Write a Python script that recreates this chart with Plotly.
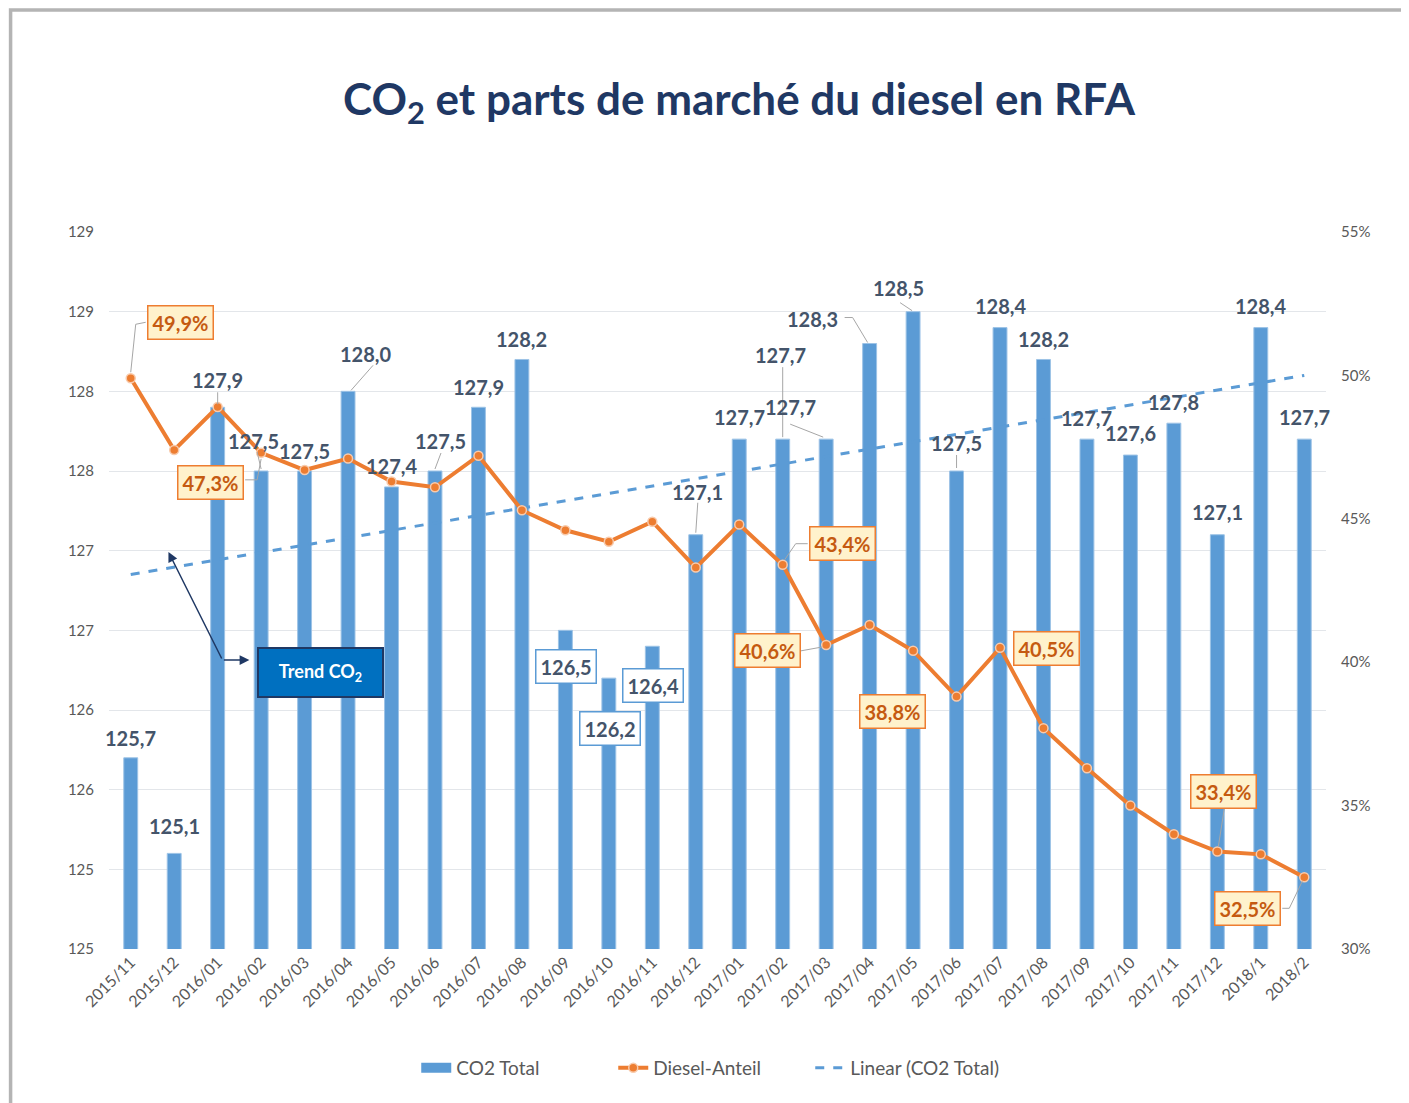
import plotly.graph_objects as go

# ---------------- data ----------------
months = ["2015/11", "2015/12", "2016/01", "2016/02", "2016/03", "2016/04", "2016/05",
          "2016/06", "2016/07", "2016/08", "2016/09", "2016/10", "2016/11", "2016/12",
          "2017/01", "2017/02", "2017/03", "2017/04", "2017/05", "2017/06", "2017/07",
          "2017/08", "2017/09", "2017/10", "2017/11", "2017/12", "2018/1", "2018/2"]
co2_total = [125.7, 125.1, 127.9, 127.5, 127.5, 128.0, 127.4, 127.5, 127.9, 128.2,
             126.5, 126.2, 126.4, 127.1, 127.7, 127.7, 127.7, 128.3, 128.5, 127.5,
             128.4, 128.2, 127.7, 127.6, 127.8, 127.1, 128.4, 127.7]
diesel_share = [49.9, 47.4, 48.9, 47.3, 46.7, 47.1, 46.3, 46.1, 47.2, 45.3,
                44.6, 44.2, 44.9, 43.3, 44.8, 43.4, 40.6, 41.3, 40.4, 38.8,
                40.5, 37.7, 36.3, 35.0, 34.0, 33.4, 33.3, 32.5]
trend_months = ["2015/11", "2018/2"]
trend_values = [126.85, 128.10]
left_tickvals = [124.5, 125.0, 125.5, 126.0, 126.5, 127.0, 127.5, 128.0, 128.5, 129.0]
left_ticktext = ["125", "125", "126", "126", "127", "127", "128", "128", "129", "129"]
right_tickvals = [30, 35, 40, 45, 50, 55]
right_ticktext = ["30%", "35%", "40%", "45%", "50%", "55%"]
diesel_labelled = ["2015/11", "2016/02", "2017/02", "2017/03", "2017/06", "2017/07", "2017/12", "2018/2"]
co2_boxed = ["2016/09", "2016/10", "2016/11"]

# ---------------- label offsets (pixels, style only) ----------------
co2_offsets = [(0, 20), (0, 27), (0, 27), (-8, 30), (0, 20), (17, 37), (0, 21),
               (6, 30), (0, 20), (0, 20), (1, -36), (1, -50), (1, -39), (2, 43),
               (0, 22), (-2, 84), (-36, 32), (-57, 25), (-15, 24), (0, 28), (0, 22),
               (0, 20), (0, 21), (0, 22), (0, 21), (0, 23), (0, 22), (0, 22)]
diesel_offsets = {"2015/11": (50, 56), "2016/02": (-51, -30), "2017/02": (60, 21),
                  "2017/03": (-59, -6), "2017/06": (-64, -15), "2017/07": (46, -1),
                  "2017/12": (6, 60), "2018/2": (-57, -31)}
# leader lines: (category, axis, pixel path relative to the data point, up = positive)
leaders = [
    ("2015/11", "y2", [(0, 6), (5, 54), (15, 56)]),
    ("2016/02", "y2", [(-16, -27), (-4, -27), (0, -6)]),
    ("2017/02", "y2", [(2, 5), (13, 21), (25, 21)]),
    ("2017/03", "y2", [(-26, -6), (-4, -2)]),
    ("2017/12", "y2", [(1, 5), (7, 43)]),
    ("2018/2", "y2", [(-22, -31), (-15, -31), (-2, -4)]),
    ("2016/01", "y", [(0, 15), (0, 3)]),
    ("2016/02", "y", [(-4, 19), (0, 2)]),
    ("2016/04", "y", [(25, 26), (3, 1)]),
    ("2016/06", "y", [(6, 18), (0, 2)]),
    ("2016/12", "y", [(2, 32), (0, 2)]),
    ("2017/02", "y", [(0, 72), (0, 2)]),
    ("2017/03", "y", [(-36, 15), (-3, 2)]),
    ("2017/04", "y", [(-25, 26), (-17, 26), (-2, 1)]),
    ("2017/05", "y", [(-13, 9), (-1, 1)]),
    ("2017/06", "y", [(0, 16), (0, 3)]),
]

FONT = "Lato"
BLUE = "#5B9BD5"
ORANGE = "#ED7D31"
LABEL = "#44546A"

fig = go.Figure()
# legend-only entry giving the wide bar swatch of the original legend
fig.add_trace(go.Scatter(x=[None], y=[None], name="CO2 Total", mode="lines",
                         line=dict(color=BLUE, width=10), legendrank=1))
fig.add_trace(go.Bar(x=months, y=co2_total, name="CO2 Total", width=0.32, showlegend=False,
                     marker=dict(color=BLUE, line=dict(color="#9DC3E6", width=1)),
                     yaxis="y"))
fig.add_trace(go.Scatter(x=months, y=diesel_share, name="Diesel-Anteil", mode="lines+markers",
                         line=dict(color=ORANGE, width=4), legendrank=2,
                         marker=dict(size=9, color=ORANGE, line=dict(color="#F8CBAD", width=1.5)),
                         yaxis="y2"))
fig.add_trace(go.Scatter(x=trend_months, y=trend_values, name="Linear (CO2 Total)", mode="lines",
                         line=dict(color=BLUE, width=3, dash="dash"), yaxis="y", legendrank=3))

def fmt(v):
    return f"{v:.1f}".replace(".", ",")

annotations = []
for m, v, (dx, dy) in zip(months, co2_total, co2_offsets):
    boxed = m in co2_boxed
    annotations.append(dict(x=m, y=v, xref="x", yref="y", text=fmt(v), showarrow=False,
                            xshift=dx, yshift=dy, xanchor="center", yanchor="middle",
                            font=dict(family=FONT, size=20, color=LABEL, weight="bold"),
                            bgcolor="white" if boxed else None,
                            bordercolor=BLUE if boxed else None,
                            borderwidth=1.5 if boxed else 0, borderpad=4))
for m, v in zip(months, diesel_share):
    if m in diesel_labelled:
        dx, dy = diesel_offsets[m]
        annotations.append(dict(x=m, y=v, xref="x", yref="y2", text=fmt(v) + "%", showarrow=False,
                                xshift=dx, yshift=dy, xanchor="center", yanchor="middle",
                                font=dict(family=FONT, size=20, color="#C55A11", weight="bold"),
                                bgcolor="#FFF2CC", bordercolor=ORANGE, borderwidth=1.5, borderpad=4))

# screen pixel -> paper coordinates (plot area spans 108.5..1326.5 x, 232..949 y on screen)
def px(xp):
    return (xp - 108.5) / 1218.0

def py(yp):
    return (949.0 - yp) / 717.0

annotations.append(dict(x=px(320), y=py(672), xref="paper", yref="paper", xanchor="center", yanchor="middle",
                        text="Trend CO<sub>2</sub>", showarrow=False, width=99, height=23,
                        font=dict(family=FONT, size=18, color="white", weight="bold"),
                        bgcolor="#0070C0", bordercolor="#1F3864", borderwidth=2, borderpad=12))
annotations.append(dict(x=px(168), y=py(552), xref="paper", yref="paper", text="",
                        showarrow=True, ax=54, ay=108, arrowhead=2, arrowsize=1.3,
                        arrowwidth=1.5, arrowcolor="#1F3864", standoff=0, startstandoff=0))
annotations.append(dict(x=px(249), y=py(660), xref="paper", yref="paper", text="",
                        showarrow=True, ax=-27, ay=0, arrowhead=2, arrowsize=1.3,
                        arrowwidth=1.5, arrowcolor="#1F3864", standoff=0, startstandoff=0))

annotations.append(dict(x=px(740), y=py(101), xref="paper", yref="paper", xanchor="center", yanchor="middle",
                        text="CO<sub>2</sub> et parts de marché du diesel en RFA", showarrow=False,
                        font=dict(family=FONT, size=44, color="#1F3864", weight="bold")))

shapes = [dict(type="rect", xref="paper", yref="paper", x0=px(10), x1=px(1500), y0=py(1200), y1=py(10),
               line=dict(color="#B4B4B4", width=3.5), fillcolor="rgba(0,0,0,0)", layer="below")]
for m, ax_name, pts in leaders:
    path = "M" + " L".join(f"{dx},{dy}" for dx, dy in pts)
    val = (diesel_share if ax_name == "y2" else co2_total)[months.index(m)]
    shapes.append(dict(type="path", xref="x", yref=ax_name, xsizemode="pixel", ysizemode="pixel",
                       xanchor=months.index(m), yanchor=val, path=path,
                       line=dict(color="#A6A6A6", width=1), layer="above"))

# page body adds an 8px offset: the figure is drawn 8px smaller and margins shifted by 8px
fig.update_layout(
    width=1401, height=1095,
    margin=dict(l=100.5, r=82.5, t=224, b=154, autoexpand=False),
    paper_bgcolor="white", plot_bgcolor="white",
    font=dict(family=FONT, color="#595959"),
    xaxis=dict(type="category", range=[-0.5, 27.5], autorange=False, tickangle=-45,
               tickfont=dict(size=16, color="#595959"),
               showgrid=False, showline=False, ticks=""),
    yaxis=dict(range=[124.5, 129.0], autorange=False, tickvals=left_tickvals, ticktext=left_ticktext,
               tickfont=dict(size=15, color="#595959"), showgrid=True, gridcolor="#E3E6EA",
               gridwidth=1.2, zeroline=False, showline=False, ticklabelstandoff=14),
    yaxis2=dict(range=[30, 55], autorange=False, tickvals=right_tickvals, ticktext=right_ticktext,
                overlaying="y", side="right", showgrid=False, zeroline=False,
                tickfont=dict(size=15, color="#595959"), ticklabelstandoff=14),
    legend=dict(orientation="h", x=px(416), y=py(1068), xanchor="left", yanchor="middle",
                font=dict(family=FONT, size=19, color="#595959"), itemwidth=30,
                entrywidth=152, entrywidthmode="pixels", traceorder="normal"),
    annotations=annotations,
    shapes=shapes,
    showlegend=True,
)

fig.write_html("out.html")
